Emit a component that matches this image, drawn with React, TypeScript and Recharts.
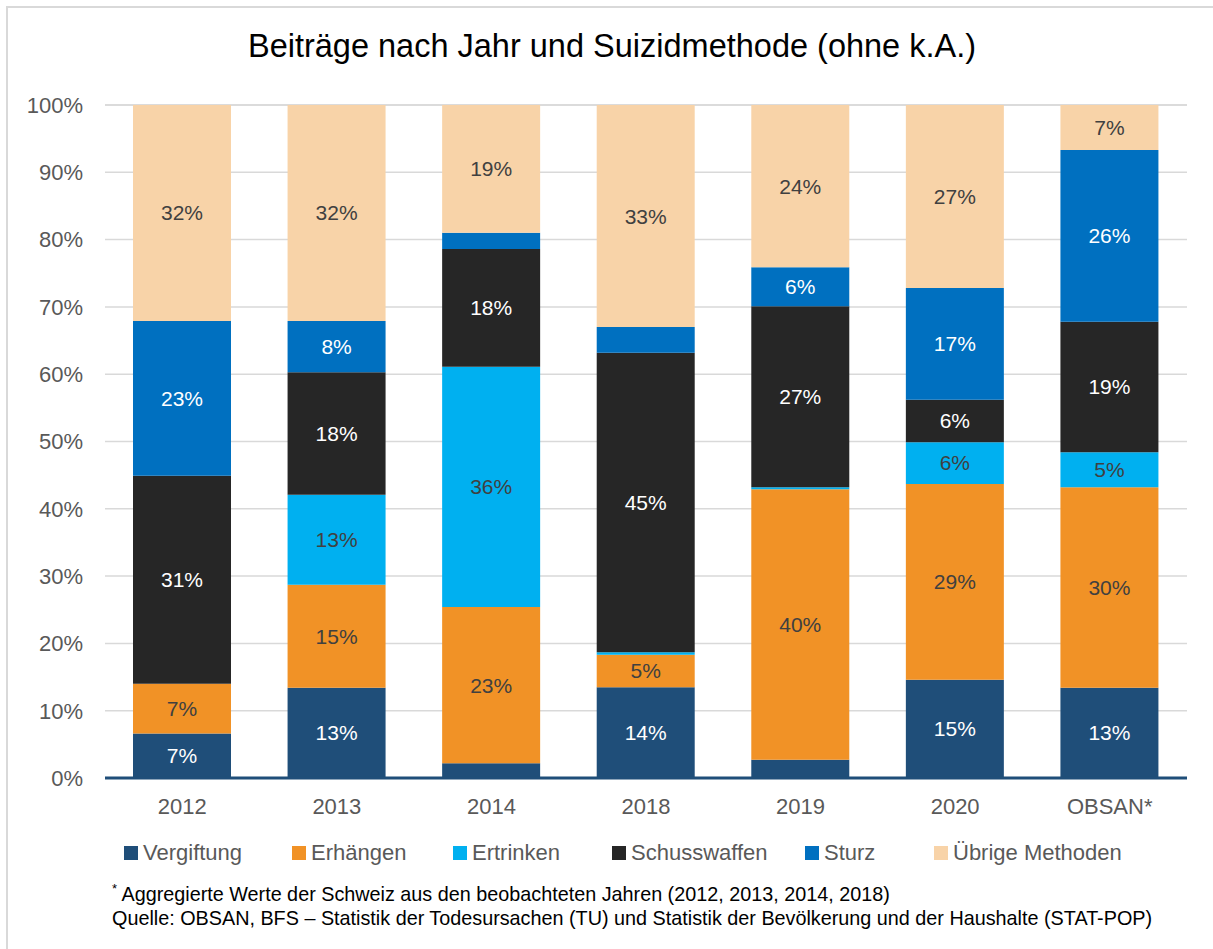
import { BarChart, Bar, XAxis, YAxis, CartesianGrid, LabelList, ReferenceLine } from 'recharts';

const FONT = '"Liberation Sans", Arial, sans-serif';

const categories = ['2012', '2013', '2014', '2018', '2019', '2020', 'OBSAN*'];
const vergiftung = [6.6, 13.4, 2.2, 13.5, 2.7, 14.6, 13.4];
const erhaengen = [7.4, 15.3, 23.2, 4.8, 40.2, 29.1, 29.8];
const ertrinken = [0, 13.4, 35.7, 0.4, 0.3, 6.2, 5.2];
const schusswaffen = [30.9, 18.2, 17.5, 44.5, 26.9, 6.3, 19.4];
const sturz = [23.0, 7.6, 2.4, 3.8, 5.8, 16.6, 25.5];
const uebrige = [32.1, 32.1, 19.0, 33.0, 24.1, 27.2, 6.7];
const yTicks = [0, 10, 20, 30, 40, 50, 60, 70, 80, 90, 100];

const series = [
  { key: 'vergiftung', name: 'Vergiftung', color: '#1F4E79', label: '#FFFFFF', values: vergiftung, lx: 124 },
  { key: 'erhaengen', name: 'Erhängen', color: '#F19226', label: '#404040', values: erhaengen, lx: 292 },
  { key: 'ertrinken', name: 'Ertrinken', color: '#00B0F0', label: '#404040', values: ertrinken, lx: 453 },
  { key: 'schusswaffen', name: 'Schusswaffen', color: '#262626', label: '#FFFFFF', values: schusswaffen, lx: 612 },
  { key: 'sturz', name: 'Sturz', color: '#0070C0', label: '#FFFFFF', values: sturz, lx: 805 },
  { key: 'uebrige', name: 'Übrige Methoden', color: '#F8D3A8', label: '#404040', values: uebrige, lx: 934 },
];

const data = categories.map((cat, i) => {
  const row: Record<string, string | number> = { cat };
  series.forEach(s => { row[s.key] = s.values[i]; });
  return row;
});

const fmt = (v: any) => (typeof v === 'number' && v >= 4.5 ? `${Math.round(v)}%` : '');

export default function App() {
  return (
    <div style={{ position: 'absolute', left: 0, top: 0, width: 1213, height: 949, background: '#fff', fontFamily: FONT }}>
      {/* Rahmen */}
      <div style={{ position: 'absolute', left: 6, top: 6, right: 0, bottom: 0, borderLeft: '2px solid #D9D9D9', borderTop: '2px solid #D9D9D9' }} />

      <div style={{ position: 'absolute', left: 0, top: 28, width: 1224, textAlign: 'center', fontSize: 32.5, color: '#000' }}>
        Beiträge nach Jahr und Suizidmethode (ohne k.A.)
      </div>

      <div style={{ position: 'absolute', left: 0, top: 0 }}>
        <BarChart
          width={1213}
          height={830}
          data={data}
          margin={{ top: 105, right: 26, left: 0, bottom: 22 }}
          barSize={98}
        >
          <CartesianGrid vertical={false} stroke="#D9D9D9" strokeWidth={1.5} />
          <XAxis
            dataKey="cat"
            height={30}
            axisLine={false}
            tickLine={false}
            tickSize={0}
            tickMargin={20}
            tick={{ fill: '#595959', fontSize: 22, fontFamily: FONT }}
          />
          <YAxis
            width={105}
            domain={[0, 100]}
            ticks={yTicks}
            axisLine={false}
            tickLine={false}
            tickSize={0}
            tickMargin={22}
            tickFormatter={(v: number) => `${v}%`}
            tick={{ fill: '#595959', fontSize: 22, fontFamily: FONT }}
          />
          {series.map(s => (
            <Bar key={s.key} dataKey={s.key} name={s.name} stackId="a" fill={s.color} isAnimationActive={false}>
              <LabelList
                dataKey={s.key}
                position="center"
                formatter={fmt}
                fill={s.label}
                style={{ fontSize: 21, fontFamily: FONT }}
              />
            </Bar>
          ))}
          <ReferenceLine y={0} stroke="#1F4E79" strokeWidth={3} />
        </BarChart>
      </div>

      {/* Legende */}
      {series.map(s => (
        <div key={s.key} style={{ position: 'absolute', left: s.lx, top: 840, display: 'flex', alignItems: 'center', fontSize: 22, color: '#595959', whiteSpace: 'nowrap' }}>
          <span style={{ display: 'inline-block', width: 14, height: 14, background: s.color, marginRight: 5 }} />
          {s.name}
        </div>
      ))}

      <div style={{ position: 'absolute', left: 112, top: 877, fontSize: 19.8, color: '#000', lineHeight: '24px', whiteSpace: 'nowrap' }}>
        <div><sup style={{ fontSize: 13 }}>*</sup> Aggregierte Werte der Schweiz aus den beobachteten Jahren (2012, 2013, 2014, 2018)</div>
        <div>Quelle: OBSAN, BFS – Statistik der Todesursachen (TU) und Statistik der Bevölkerung und der Haushalte (STAT-POP)</div>
      </div>
    </div>
  );
}
